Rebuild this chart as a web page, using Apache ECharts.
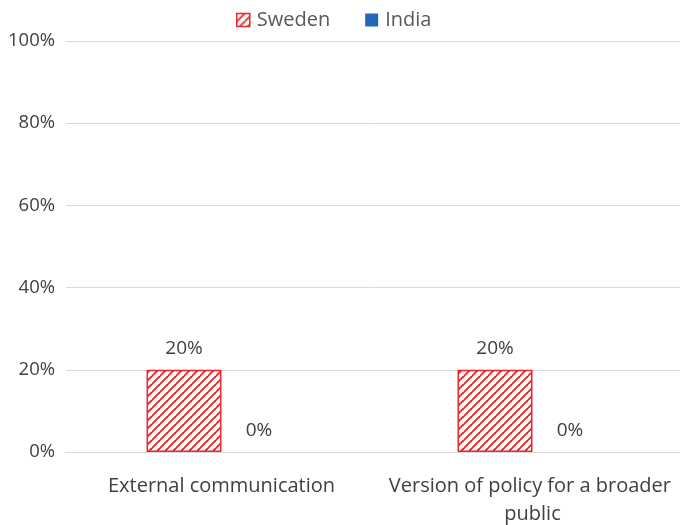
<!DOCTYPE html>
<html>
<head>
<meta charset="utf-8">
<script src="https://cdn.jsdelivr.net/npm/echarts@6/dist/echarts.min.js"></script>
<style>
  html, body { margin: 0; padding: 0; background: #fff; }
  #chart { width: 680px; height: 525px; }
</style>
</head>
<body>
<div id="chart"></div>
<script>
const categories = ['External communication', 'Version of policy for a broader public'];
const swedenValues = [20, 20];
const indiaValues = [0, 0];
const yTicks = [0, 20, 40, 60, 80, 100];

const RED = '#e8282b';
const BLUE = '#2268b8';

// Diagonal hatch tile for the Sweden bars
function makeHatch(size, width, color) {
  const c = document.createElement('canvas');
  c.width = size; c.height = size;
  const ctx = c.getContext('2d');
  ctx.fillStyle = '#fff';
  ctx.fillRect(0, 0, size, size);
  ctx.strokeStyle = color;
  ctx.lineWidth = width;
  for (let k = -size; k <= size * 2; k += size) {
    ctx.beginPath();
    ctx.moveTo(k - size, size);
    ctx.lineTo(k + size, -size);
    ctx.stroke();
  }
  return c;
}
const hatch = makeHatch(8, 1.9, RED);

const FONT = 'Open Sans';
const TEXT = '#404040';
const chart = echarts.init(document.getElementById('chart'));
chart.setOption({
  animation: false,
  textStyle: { fontFamily: FONT },
  legend: {
    top: 5,
    left: 231,
    itemWidth: 13,
    itemHeight: 13,
    itemGap: 35,
    textStyle: { fontSize: 20, color: '#595959', fontFamily: FONT, padding: [0, 0, 0, 2] },
    data: [
      { name: 'Sweden', icon: 'rect', itemStyle: { color: { image: hatch, repeat: 'repeat' }, borderColor: RED, borderWidth: 1.5 } },
      { name: 'India', icon: 'rect' }
    ]
  },
  // the plot runs slightly past the right edge of the canvas
  grid: { left: 66, width: 622, top: 41, bottom: 73, containLabel: false, outerBoundsMode: 'none' },
  xAxis: {
    type: 'category',
    data: categories,
    axisLine: { show: true, lineStyle: { color: '#d9d9d9' } },
    axisTick: { show: false },
    axisLabel: {
      fontSize: 20, color: TEXT, fontFamily: FONT, margin: 20,
      width: 300, overflow: 'break', lineHeight: 28, interval: 0
    }
  },
  yAxis: {
    type: 'value',
    min: yTicks[0],
    max: yTicks[yTicks.length - 1],
    interval: 20,
    axisLine: { show: false },
    axisTick: { show: false },
    splitLine: { lineStyle: { color: '#d9d9d9', width: 1 } },
    axisLabel: { fontSize: 18.5, color: TEXT, fontFamily: FONT, margin: 11, formatter: v => v + '%' }
  },
  series: [
    {
      name: 'Sweden',
      type: 'bar',
      data: swedenValues,
      barWidth: 75,
      barGap: '0%',
      itemStyle: { color: { image: hatch, repeat: 'repeat' }, borderColor: RED, borderWidth: 1.5 },
      label: { show: true, position: 'top', distance: 12, fontSize: 19, color: TEXT, fontFamily: FONT, formatter: p => p.value + '%' }
    },
    {
      name: 'India',
      type: 'bar',
      data: indiaValues,
      barWidth: 75,
      itemStyle: { color: BLUE },
      label: { show: true, position: 'top', distance: 12, fontSize: 19, color: TEXT, fontFamily: FONT, formatter: p => p.value + '%' }
    }
  ]
});
</script>
</body>
</html>
